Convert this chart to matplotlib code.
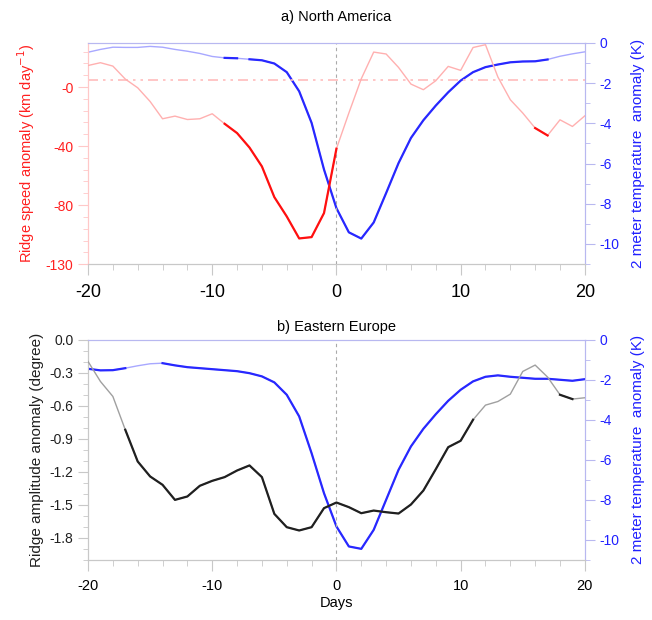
import numpy as np
import matplotlib
matplotlib.use("Agg")
import matplotlib.pyplot as plt
from matplotlib.ticker import MultipleLocator

plt.rcParams['font.family'] = ['Liberation Sans', 'DejaVu Sans']
plt.rcParams['axes.unicode_minus'] = False

days = np.arange(-20, 21)

# a) North America
na_speed = [14.6, 16.5, 14.2, 5.4, -0.5, -9.8, -21.5, -19.7, -22.0, -21.5,
            -18.1, -24.9, -31.2, -41.0, -53.8, -74.6, -87.7, -102.6, -101.7, -85.4,
            -41.8, -17.6, 5.6, 23.7, 22.4, 13.3, 2.0, -1.8, 4.3, 14.0,
            11.3, 26.8, 28.7, 6.8, -8.6, -17.6, -27.8, -32.8, -22.2, -26.7, -19.5]
na_t2m = [-0.47, -0.33, -0.22, -0.23, -0.23, -0.18, -0.22, -0.33, -0.42, -0.53,
          -0.68, -0.75, -0.77, -0.82, -0.87, -1.03, -1.46, -2.41, -3.98, -6.30,
          -8.22, -9.42, -9.73, -8.93, -7.47, -5.98, -4.73, -3.85, -3.12, -2.46,
          -1.88, -1.46, -1.21, -1.08, -0.97, -0.93, -0.92, -0.83, -0.67, -0.55, -0.45]
na_speed_ref = 5
na_speed_sig = [(-9, 0), (16, 17)]
na_t2m_sig = [(-9, -8), (-7, 17)]
na_speed_ticks = [0, -40, -80, -120]
na_speed_labels = ["-0", "-40", "-80", "-130"]

# b) Eastern Europe
ee_amp = [-0.197, -0.379, -0.515, -0.818, -1.106, -1.242, -1.318, -1.455, -1.424, -1.327,
          -1.282, -1.248, -1.188, -1.142, -1.248, -1.582, -1.703, -1.733, -1.703, -1.530,
          -1.479, -1.521, -1.576, -1.552, -1.567, -1.579, -1.497, -1.370, -1.176, -0.976,
          -0.918, -0.727, -0.594, -0.561, -0.494, -0.288, -0.230, -0.339, -0.500, -0.539, -0.527]
ee_t2m = [-1.45, -1.53, -1.52, -1.42, -1.30, -1.20, -1.17, -1.28, -1.37, -1.42,
          -1.47, -1.52, -1.57, -1.67, -1.83, -2.13, -2.75, -3.83, -5.67, -7.67,
          -9.33, -10.33, -10.45, -9.50, -8.00, -6.50, -5.33, -4.45, -3.72, -3.05,
          -2.50, -2.08, -1.85, -1.78, -1.85, -1.90, -1.95, -1.95, -2.00, -2.05, -1.97]
ee_amp_sig = [(-17, 11), (18, 19)]
ee_t2m_sig = [(-20, -17), (-14, 20)]
ee_amp_ticks = [0.0, -0.3, -0.6, -0.9, -1.2, -1.5, -1.8]
t2m_ticks = [0, -2, -4, -6, -8, -10]


def sig_line(ax, x, y, spans, pale, bright):
    y = np.asarray(y, dtype=float)
    ax.plot(x, y, color=pale, lw=1.0, zorder=3)
    for a, b in spans:
        m = (x >= a) & (x <= b)
        ax.plot(x[m], y[m], color=bright, lw=1.6, zorder=4)


def style(ax, axr, lcol, ltick, rtick, xsize):
    ax.set_xlim(-20, 20)
    ax.xaxis.set_major_locator(MultipleLocator(10))
    ax.xaxis.set_minor_locator(MultipleLocator(2))
    ax.tick_params(axis='x', which='major', direction='out', length=8, color='#c8c8c8',
                   labelsize=xsize, pad=6)
    ax.tick_params(axis='x', which='minor', direction='out', length=4, color='#c8c8c8')
    ax.tick_params(axis='y', which='major', direction='out', length=7, color=ltick,
                   labelsize=10, labelcolor=lcol)
    ax.tick_params(axis='y', which='minor', direction='out', length=3.5, color=ltick)
    axr.tick_params(axis='y', which='major', direction='out', length=7, color=rtick,
                    labelsize=10, labelcolor='#2020ff')
    axr.tick_params(axis='y', which='minor', direction='out', length=3.5, color=rtick)
    for a in (ax, axr):
        a.spines['left'].set_color(ltick)
        a.spines['bottom'].set_color('#c8c8c8')
        a.spines['top'].set_color('#b8b8f0')
        a.spines['right'].set_color(rtick)
    axr.set_ylim(-11, 0)
    axr.set_yticks(t2m_ticks)
    axr.set_yticklabels([str(t) for t in t2m_ticks])
    axr.yaxis.set_minor_locator(MultipleLocator(1))
    axr.set_ylabel("2 meter temperature  anomaly (K)", color='#2020ff', fontsize=11,
                   labelpad=8)
    ax.axvline(0, color='#aaaaaa', lw=0.8, ls=(0, (3, 3)), zorder=1)


fig = plt.figure(figsize=(6.52, 6.2), dpi=100)

# panel a
ax1 = fig.add_axes([0.135, 0.574, 0.762, 0.357])
ax1r = ax1.twinx()
ax1.set_zorder(ax1r.get_zorder() + 1)
ax1.patch.set_visible(False)
sig_line(ax1, days, na_speed, na_speed_sig, '#ffb0b0', '#ff1010')
ax1.axhline(na_speed_ref, color='#ffbcbc', lw=1.2, ls=(0, (6, 3, 1.5, 3, 1.5, 3)), zorder=2)
sig_line(ax1r, days, na_t2m, na_t2m_sig, '#a8a8ff', '#2828ff')
ax1.set_ylim(-120, 30)
ax1.set_yticks(na_speed_ticks)
ax1.set_yticklabels(na_speed_labels)
ax1.yaxis.set_minor_locator(MultipleLocator(8))
style(ax1, ax1r, '#ff2020', '#ffc8c8', '#b8b8f0', 13)
ax1.set_ylabel("Ridge speed anomaly (km day$^{-1}$)", color='#ff2020', fontsize=10.5,
               labelpad=6)
ax1.set_title("a) North America", fontsize=10.5, pad=16)

# panel b
ax2 = fig.add_axes([0.135, 0.097, 0.762, 0.355])
ax2r = ax2.twinx()
ax2.set_zorder(ax2r.get_zorder() + 1)
ax2.patch.set_visible(False)
sig_line(ax2, days, ee_amp, ee_amp_sig, '#a0a0a0', '#202020')
sig_line(ax2r, days, ee_t2m, ee_t2m_sig, '#a8a8ff', '#2828ff')
ax2.set_ylim(-2.0, 0.0)
ax2.set_yticks(ee_amp_ticks)
ax2.set_yticklabels(["%.1f" % t for t in ee_amp_ticks])
ax2.yaxis.set_minor_locator(MultipleLocator(0.1))
style(ax2, ax2r, '#202020', '#c8c8c8', '#b8b8f0', 10.5)
ax2.set_ylabel("Ridge amplitude anomaly (degree)", color='#202020', fontsize=11,
               labelpad=4)
ax2.set_xlabel("Days", fontsize=10.5, labelpad=2)
ax2.set_title("b) Eastern Europe", fontsize=10.5, pad=6)

fig.savefig("out.png", dpi=100)
